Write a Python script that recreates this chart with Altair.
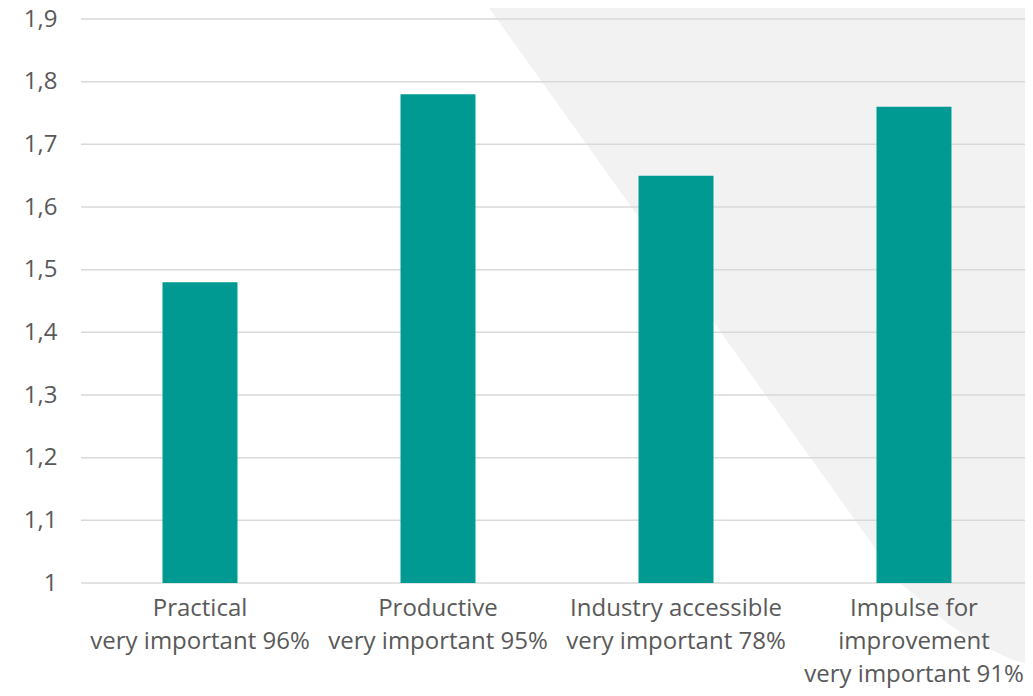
import altair as alt
import pandas as pd

# ---- data ----
categories = ["Practical", "Productive", "Industry accessible", "Impulse for|improvement"]
shares = ["96%", "95%", "78%", "91%"]
values = [1.48, 1.78, 1.65, 1.76]
y_ticks = [1.0, 1.1, 1.2, 1.3, 1.4, 1.5, 1.6, 1.7, 1.8, 1.9]

# decorative grey background shape (in plot pixel units)
shape_y = [-11, 564, 581, 604, 626, 641, 646]
shape_x = [408, 819, 839, 866, 899, 932, 952]
shape_right = 952

XR = 952          # full horizontal extent of the category band (runs to the page edge)
W, H = 944, 564   # visible plot area (page margin trims the last 8px)
TEXT = "#595959"
FONT = "Open Sans"

labels = [f"{c}|very important {s}" for c, s in zip(categories, shares)]
df = pd.DataFrame({"label": labels, "value": values})
grid_df = pd.DataFrame({"tick": y_ticks})
shape_df = pd.DataFrame({"sy": shape_y, "sx": shape_x, "sr": [shape_right] * len(shape_x)})

yscale = alt.Scale(domain=[1, 1.9], zero=False, nice=False)

shape = alt.Chart(shape_df).mark_area(orient="horizontal", color="#F2F2F2", clip=False).encode(
    y=alt.Y("sy:Q", scale=alt.Scale(domain=[0, H], reverse=True, zero=False, nice=False), axis=None),
    x=alt.X("sx:Q", scale=alt.Scale(domain=[0, XR], range=[0, XR], zero=False, nice=False), axis=None),
    x2="sr:Q",
)

grid = alt.Chart(grid_df).mark_rule(color="#D9D9D9", strokeWidth=1.5).encode(
    y=alt.Y("tick:Q", scale=yscale, axis=None)
)

bars = alt.Chart(df).mark_bar(color="#009A93").encode(
    x=alt.X(
        "label:N",
        sort=None,
        scale=alt.Scale(paddingInner=0.685, paddingOuter=0.3425, range=[0, XR]),
        axis=alt.Axis(
            title=None,
            labelExpr="split(datum.label, '|')",
            labelAngle=0,
            domain=False,
            ticks=False,
            grid=False,
            labelPadding=13,
            labelLineHeight=33,
            labelFontSize=24,
            labelColor=TEXT,
            labelFont=FONT,
            labelLimit=400,
            zindex=2,
        ),
    ),
    y=alt.Y(
        "value:Q",
        scale=yscale,
        axis=alt.Axis(
            title=None,
            values=y_ticks,
            labelExpr="replace(toString(datum.value), '.', ',')",
            grid=False,
            domain=False,
            ticks=False,
            labelPadding=24,
            labelFontSize=24,
            labelColor=TEXT,
            labelFont=FONT,
            zindex=2,
        ),
    ),
    y2=alt.datum(1),
)

chart = (
    alt.layer(shape, grid, bars)
    .resolve_scale(x="independent", y="independent")
    .properties(
        width=W,
        height=H,
        autosize=alt.AutoSizeParams(type="none"),
        padding={"left": 73, "top": 11, "right": 0, "bottom": 105},
        background="white",
    )
    .configure_view(stroke=None)
)

chart.save("out.html", embed_options={"renderer": "svg", "actions": False})
